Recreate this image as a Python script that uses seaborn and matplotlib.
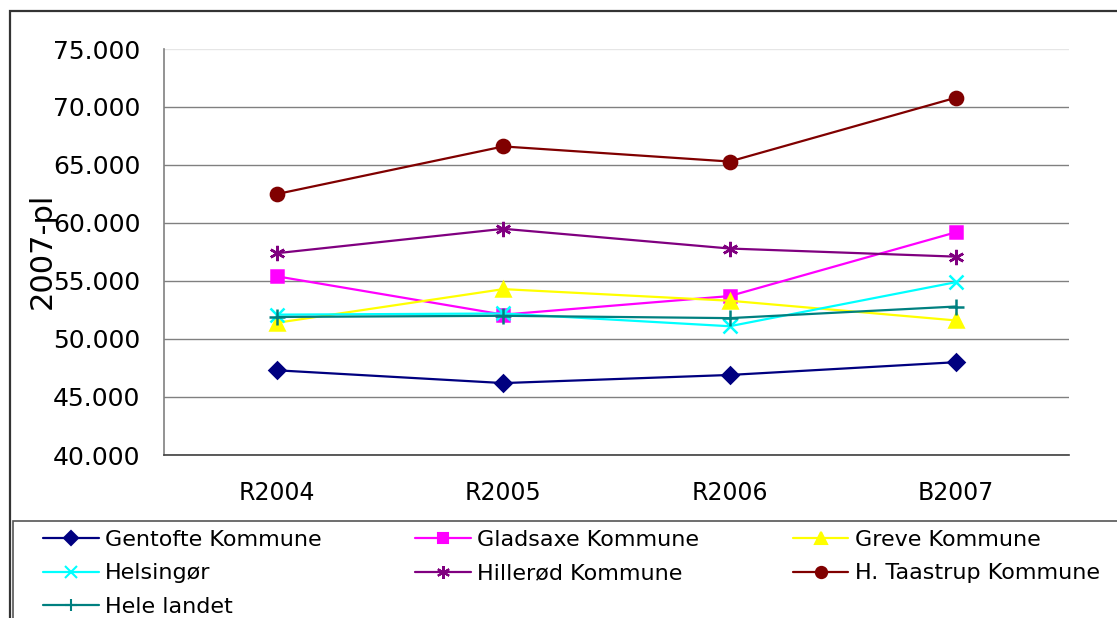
import matplotlib
matplotlib.use("Agg")
import matplotlib.pyplot as plt
from matplotlib.ticker import FuncFormatter, FixedLocator
from matplotlib.patches import Rectangle
from matplotlib.lines import Line2D
import pandas as pd
import seaborn as sns

# Budget / accounts per year (2007 price level)
periods = ["R2004", "R2005", "R2006", "B2007"]
names = ["Gentofte Kommune", "Gladsaxe Kommune", "Greve Kommune", "Helsingør",
         "Hillerød Kommune", "H. Taastrup Kommune", "Hele landet"]
gentofte = [47300, 46200, 46900, 48000]
gladsaxe = [55400, 52100, 53700, 59200]
greve = [51400, 54300, 53300, 51600]
helsingor = [52100, 52200, 51100, 54900]
hillerod = [57400, 59500, 57800, 57100]
taastrup = [62500, 66600, 65300, 70800]
hele_landet = [51900, 52000, 51800, 52800]
series = [gentofte, gladsaxe, greve, helsingor, hillerod, taastrup, hele_landet]

colors = ["#000080", "#FF00FF", "#FFFF00", "#00FFFF", "#800080", "#800000", "#008080"]
markers = ["D", "s", "^", "x", (6, 2, 0), "o", "+"]
msizes = [8, 8.5, 10, 10, 11, 9.5, 11]

rows = []
for name, vals in zip(names, series):
    for i, v in enumerate(vals):
        rows.append({"series": name, "pos": i, "value": v})
df = pd.DataFrame(rows)

sns.set_style("white")
plt.rcParams["font.family"] = ["DejaVu Sans"]
plt.rcParams["text.color"] = "#000000"

W, H = 1117, 618
fig = plt.figure(figsize=(W / 100, H / 100), dpi=100)
fig.patch.set_facecolor("white")
ax = fig.add_axes([164 / W, 1 - 455 / H, (1069 - 164) / W, (455 - 49) / H])

handles = []
for name, col, mk, ms in zip(names, colors, markers, msizes):
    sub = df[df["series"] == name]
    sns.lineplot(data=sub, x="pos", y="value", color=col, marker=mk,
                 markersize=ms, markeredgecolor=col, markeredgewidth=1.8,
                 linewidth=1.6, ax=ax, legend=False, sort=False)
    handles.append(Line2D([], [], color=col, marker=mk, markersize=ms * 0.85,
                          markeredgecolor=col, markeredgewidth=1.5, linewidth=1.6))

ax.set_xlim(-0.5, len(periods) - 0.5)
ax.set_ylim(40000, 75000)
ax.yaxis.set_major_locator(FixedLocator(range(40000, 75001, 5000)))
ax.yaxis.set_major_formatter(FuncFormatter(lambda v, p: f"{v:,.0f}".replace(",", ".")))
ax.set_xticks(range(len(periods)))
ax.set_xticklabels(periods)
ax.set_xticks([i - 0.5 for i in range(len(periods) + 1)], minor=True)
ax.tick_params(axis="x", which="major", length=0, pad=19, labelsize=17, labelcolor="#000000")
ax.tick_params(axis="x", which="minor", length=7, width=1.2, color="#808080", direction="out")
ax.tick_params(axis="y", which="major", length=8, width=1, color="#808080", direction="out",
               pad=9, labelsize=18, labelcolor="#000000")
ax.set_xlabel("")
ax.set_ylabel("")

ax.grid(axis="y", color="#808080", linewidth=1)
ax.grid(axis="x", visible=False)
ax.yaxis.get_gridlines()[-1].set_color("#e6e6e6")
ax.set_axisbelow(True)
for side in ("top", "right"):
    ax.spines[side].set_visible(False)
ax.spines["left"].set_color("#808080")
ax.spines["left"].set_linewidth(1.2)
ax.spines["bottom"].set_color("#404040")
ax.spines["bottom"].set_linewidth(1.2)

fig.text(42 / W, 1 - 251 / H, "2007-pl", rotation=90, ha="center", va="center",
         fontsize=22, color="#000000")

# legend, filled column by column
order = [0, 3, 6, 1, 4, 2, 5]
fig.legend([handles[i] for i in order], [names[i] for i in order], ncol=3,
           loc="upper left", bbox_to_anchor=(43 / W, 1 - 530 / H), frameon=False,
           fontsize=16, handlelength=2.5, handletextpad=0.3, columnspacing=4.2,
           labelspacing=0.6, borderpad=0, borderaxespad=0, labelcolor="#000000")

# chart frame and legend frame
fig.patches.append(Rectangle((10 / W, -0.1), 1.2, 1.1 - 11 / H, transform=fig.transFigure,
                             fill=False, edgecolor="#333333", linewidth=1.6))
fig.patches.append(Rectangle((13 / W, -0.1), 1.2, 0.1 + 1 - 521 / H, transform=fig.transFigure,
                             fill=False, edgecolor="#555555", linewidth=1.2))

fig.savefig("out.png", dpi=100)
